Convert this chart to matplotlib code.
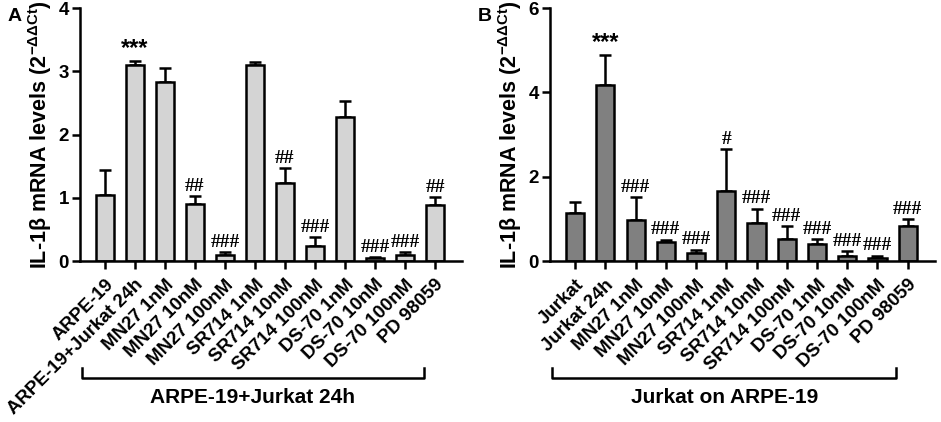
import numpy as np
import matplotlib
matplotlib.use("Agg")
import matplotlib.pyplot as plt
from matplotlib.lines import Line2D

plt.rcParams['font.family'] = ['Liberation Sans', 'DejaVu Sans']
plt.rcParams['font.weight'] = 'bold'
plt.rcParams['mathtext.fontset'] = 'custom'
plt.rcParams['mathtext.rm'] = 'Liberation Sans:bold'
plt.rcParams['mathtext.bf'] = 'Liberation Sans:bold'
plt.rcParams['mathtext.it'] = 'Liberation Sans:bold'

# Panel A data
labels_a = ['ARPE-19', 'ARPE-19+Jurkat 24h', 'MN27 1nM', 'MN27 10nM', 'MN27 100nM',
            'SR714 1nM', 'SR714 10nM', 'SR714 100nM', 'DS-70 1nM', 'DS-70 10nM',
            'DS-70 100nM', 'PD 98059']
means_a = [1.05, 3.10, 2.83, 0.90, 0.10, 3.10, 1.24, 0.24, 2.28, 0.04, 0.10, 0.88]
errs_a = [0.39, 0.06, 0.22, 0.13, 0.04, 0.05, 0.23, 0.14, 0.25, 0.02, 0.04, 0.13]
marks_a = ['', '***', '', '##', '###', '', '##', '###', '', '###', '###', '##']

# Panel B data
labels_b = ['Jurkat', 'Jurkat 24h', 'MN27 1nM', 'MN27 10nM', 'MN27 100nM',
            'SR714 1nM', 'SR714 10nM', 'SR714 100nM', 'DS-70 1nM', 'DS-70 10nM',
            'DS-70 100nM', 'PD 98059']
means_b = [1.13, 4.18, 0.98, 0.44, 0.18, 1.66, 0.90, 0.52, 0.41, 0.13, 0.08, 0.84]
errs_b = [0.26, 0.71, 0.54, 0.07, 0.09, 1.00, 0.34, 0.30, 0.11, 0.11, 0.05, 0.16]
marks_b = ['', '***', '###', '###', '###', '#', '###', '###', '###', '###', '###', '###']

ylabel = 'IL-1β mRNA levels (2$^{\\mathregular{-ΔΔCt}}$)'


def draw_panel(ax, labels, means, errs, marks, color, ymax, yticks, group_label):
    x = np.arange(len(labels))
    ax.bar(x, means, width=0.6, color=color, edgecolor='black', linewidth=1.8, zorder=2)
    ax.errorbar(x, means, yerr=[np.zeros(len(errs)), errs], fmt='none',
                ecolor='black', elinewidth=1.8, capsize=4, capthick=1.8, zorder=1)
    for xi, m, e, s in zip(x, means, errs, marks):
        if not s:
            continue
        if s.startswith('*'):
            ax.text(xi, m + e + ymax * 0.005, s, ha='center', va='bottom',
                    fontsize=17, fontweight='bold')
        else:
            ax.text(xi, m + e + ymax * 0.005, s, ha='center', va='bottom',
                    fontsize=14, family='Liberation Serif', fontweight='bold')

    ax.set_xlim(-0.83, 11.9)
    ax.set_ylim(0, ymax)
    ax.set_yticks(yticks)
    ax.set_xticks(x)
    ax.set_xticklabels(labels, rotation=45, ha='right', rotation_mode='anchor',
                       fontweight='bold')
    ax.tick_params(axis='both', width=1.8, length=6)
    ax.tick_params(axis='y', labelsize=13.5, pad=2)
    ax.tick_params(axis='x', labelsize=13.5, pad=5)
    for lab in ax.get_yticklabels():
        lab.set_fontweight('bold')
    ax.spines['top'].set_visible(False)
    ax.spines['right'].set_visible(False)
    ax.spines['left'].set_linewidth(1.8)
    ax.spines['bottom'].set_linewidth(1.8)
    ax.set_ylabel(ylabel, fontsize=15.5, fontweight='bold', labelpad=3)

    # group bracket under the tick labels
    trans = ax.get_xaxis_transform()
    x0, x1, yb, yt = -0.77, 10.63, -0.462, -0.423
    ax.add_line(Line2D([x0, x0, x1, x1], [yt, yb, yb, yt], transform=trans,
                       color='black', linewidth=1.8, clip_on=False))
    ax.text((x0 + x1) / 2, -0.54, group_label, transform=trans, ha='center',
            va='center', fontsize=15, fontweight='bold')


fig = plt.figure(figsize=(9.41, 4.22), dpi=100)
ax_a = fig.add_axes([0.085, 0.3815, 0.406, 0.5995])
ax_b = fig.add_axes([0.5845, 0.3815, 0.409, 0.5995])

draw_panel(ax_a, labels_a, means_a, errs_a, marks_a, '#d4d4d4', 4, [0, 1, 2, 3, 4],
           'ARPE-19+Jurkat 24h')
draw_panel(ax_b, labels_b, means_b, errs_b, marks_b, '#808080', 6, [0, 2, 4, 6],
           'Jurkat on ARPE-19')

fig.text(0.008, 0.982, 'A', fontsize=14, fontweight='bold', va='top')
fig.text(0.508, 0.982, 'B', fontsize=14, fontweight='bold', va='top')

fig.savefig('out.png', dpi=100)
